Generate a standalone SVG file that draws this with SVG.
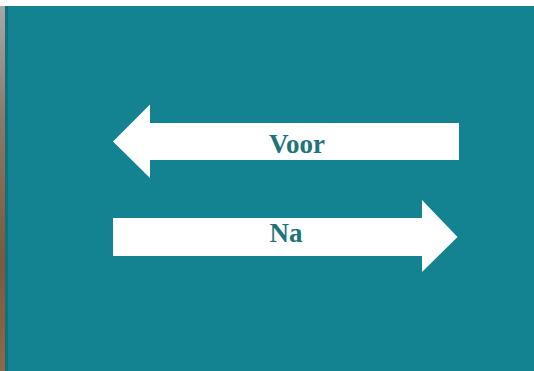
<svg xmlns="http://www.w3.org/2000/svg" width="534" height="371" viewBox="0 0 534 371">
<defs>
<linearGradient id="edge" x1="0" y1="0" x2="0" y2="1">
<stop offset="0" stop-color="#a8a8a8"/>
<stop offset="0.3" stop-color="#8a7a6a"/>
<stop offset="0.7" stop-color="#7a5a3c"/>
<stop offset="1" stop-color="#8a6a4a"/>
</linearGradient>
<style>
.arrow{fill:#ffffff}
.label{font-family:"Liberation Serif","Times New Roman",serif;font-weight:bold;font-size:27px;fill:#1f737b;text-anchor:middle}
</style>
</defs>
<rect x="0" y="0" width="534" height="371" fill="#148391"/>
<rect x="0" y="0" width="534" height="6" fill="#ffffff"/>
<rect x="0" y="6" width="5" height="365" fill="url(#edge)"/>
<rect x="5" y="6" width="3" height="365" fill="#11707d"/>
<g id="connectors">
<g id="voor">
<polygon class="arrow" points="459,123 459,160 150,160 150,178 113,141.5 150,104.5 150,123"/>
<text class="label" x="297" y="153">Voor</text>
</g>
<g id="na">
<polygon class="arrow" points="113,218 422,218 422,200 457.5,237 422,272 422,256 113,256"/>
<text class="label" x="286" y="242">Na</text>
</g>
</g>
</svg>
